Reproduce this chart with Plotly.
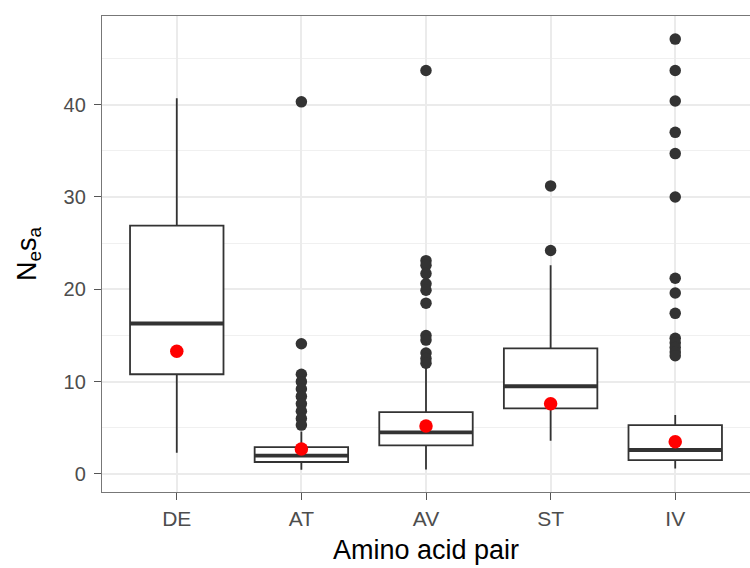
import plotly.graph_objects as go

# ---- data ----
categories = ["DE", "AT", "AV", "ST", "IV"]
q1 = [10.8, 1.3, 3.1, 7.1, 1.5]
medians = [16.3, 2.0, 4.5, 9.5, 2.6]
q3 = [26.9, 2.9, 6.7, 13.6, 5.3]
lower_whisker = [2.3, 0.45, 0.5, 3.6, 0.6]
upper_whisker = [40.7, 4.6, 11.7, 22.6, 6.4]
means = [13.3, 2.7, 5.2, 7.6, 3.5]

outliers_DE = []
outliers_AT = [40.3, 14.1, 10.8, 10.0, 9.2, 8.4, 7.6, 6.8, 6.0, 5.3]
outliers_AV = [43.7, 23.1, 22.6, 21.7, 20.6, 19.9, 18.5, 15.0, 14.5, 13.1, 12.5, 12.0]
outliers_ST = [31.2, 24.2]
outliers_IV = [47.1, 43.7, 40.4, 37.0, 34.7, 30.0, 21.2, 19.6, 17.4, 14.7, 14.2, 13.7, 13.2, 12.8]

y_ticks = [0, 10, 20, 30, 40]

# ---- styling ----
FONT = "Liberation Sans, Arial, Helvetica, sans-serif"
DARK = "#333333"
BOX_W = 0.75

xpos = list(range(len(categories)))
outlier_sets = [outliers_DE, outliers_AT, outliers_AV, outliers_ST, outliers_IV]

fig = go.Figure()

fig.add_trace(go.Box(
    x=xpos, q1=q1, median=medians, q3=q3,
    lowerfence=lower_whisker, upperfence=upper_whisker,
    width=BOX_W, whiskerwidth=0, boxpoints=False,
    fillcolor="white", line=dict(color=DARK, width=1.8),
    showlegend=False, hoverinfo="skip",
))

# thicker median lines (ggplot style)
mx, my = [], []
for i, m in zip(xpos, medians):
    mx += [i - BOX_W / 2, i + BOX_W / 2, None]
    my += [m, m, None]
fig.add_trace(go.Scatter(x=mx, y=my, mode="lines",
                         line=dict(color=DARK, width=3.8),
                         showlegend=False, hoverinfo="skip"))

# outliers
ox, oy = [], []
for i, vals in zip(xpos, outlier_sets):
    ox += [i] * len(vals)
    oy += vals
fig.add_trace(go.Scatter(x=ox, y=oy, mode="markers",
                         marker=dict(color=DARK, size=11.5, line=dict(width=0)),
                         showlegend=False, hoverinfo="skip"))

# means
fig.add_trace(go.Scatter(x=xpos, y=means, mode="markers",
                         marker=dict(color="#ff0000", size=13.5, line=dict(width=0)),
                         showlegend=False, hoverinfo="skip"))

fig.update_layout(
    width=750, height=568,
    margin=dict(l=102, r=0, t=16, b=76),
    paper_bgcolor="white", plot_bgcolor="white",
    font=dict(family=FONT, color="black"),
    showlegend=False,
)

fig.update_xaxes(
    range=[-0.6, 4.6],
    tickmode="array", tickvals=xpos, ticktext=categories,
    tickfont=dict(size=21, color="#4d4d4d", family=FONT),
    ticks="outside", ticklen=7, tickwidth=1.4, tickcolor="#555555",
    ticklabelstandoff=1,
    showgrid=True, gridcolor="#ebebeb", gridwidth=1.6,
    showline=True, linecolor="#777777", linewidth=1.4, mirror=True,
    zeroline=False,
    title=dict(text="Amino acid pair", font=dict(size=27, color="black", family=FONT), standoff=10),
)

fig.update_yaxes(
    range=[-1.95, 49.6],
    tickmode="array", tickvals=y_ticks, ticktext=[str(v) for v in y_ticks],
    tickfont=dict(size=20, color="#4d4d4d", family=FONT),
    ticks="outside", ticklen=7, tickwidth=1.4, tickcolor="#555555",
    ticklabelstandoff=4,
    showgrid=True, gridcolor="#ebebeb", gridwidth=1.6,
    minor=dict(tickvals=[5, 15, 25, 35, 45], showgrid=True, gridcolor="#f0f0f0", gridwidth=0.9),
    showline=True, linecolor="#777777", linewidth=1.4, mirror=False,
    zeroline=False,
    title=dict(text="N<sub>e</sub>s<sub>a</sub>", font=dict(size=27, color="black", family=FONT), standoff=19),
)

fig.write_html("out.html")
